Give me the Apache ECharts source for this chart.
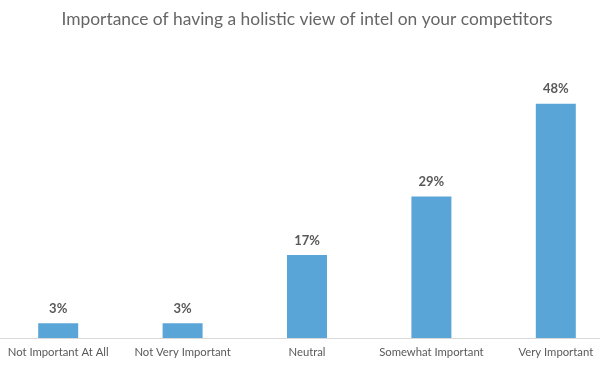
<!DOCTYPE html>
<html><head><meta charset="utf-8">
<script src="https://cdn.jsdelivr.net/npm/echarts@6/dist/echarts.min.js"></script>
<style>html,body{margin:0;padding:0;background:#fff;overflow:hidden;width:600px;height:365px}#c{width:622px;height:365px;margin-left:-4px}</style>
</head><body><div id="c"></div>
<script>
const title = "Importance of having a holistic view of intel on your competitors";
const categories = ["Not Important At All", "Not Very Important", "Neutral", "Somewhat Important", "Very Important"];
const values = [3, 3, 17, 29, 48];

const chart = echarts.init(document.getElementById('c'));
chart.setOption({
  backgroundColor: '#fff',
  animation: false,
  title: {
    text: title, left: 'center', top: 6,
    textStyle: {fontFamily: 'Lato', fontSize: 17.4, fontWeight: 'normal', color: '#666666'}
  },
  grid: {left: 0, right: 0, top: 94, bottom: 27, containLabel: false},
  xAxis: {
    type: 'category', data: categories,
    axisLine: {lineStyle: {color: '#d9d9d9'}},
    axisTick: {show: false},
    axisLabel: {interval: 0, margin: 9, fontFamily: 'Lato', fontSize: 11.3, color: '#595959'}
  },
  yAxis: {type: 'value', min: 0, max: 50, show: false, splitLine: {show: false}},
  series: [{
    type: 'bar', data: values, barWidth: 40,
    itemStyle: {color: '#5aa5d8'},
    label: {show: true, position: 'top', distance: 8, formatter: '{c}%',
      fontFamily: 'Lato', fontSize: 13, fontWeight: 'bold', color: '#595959'}
  }]
});
</script></body></html>
